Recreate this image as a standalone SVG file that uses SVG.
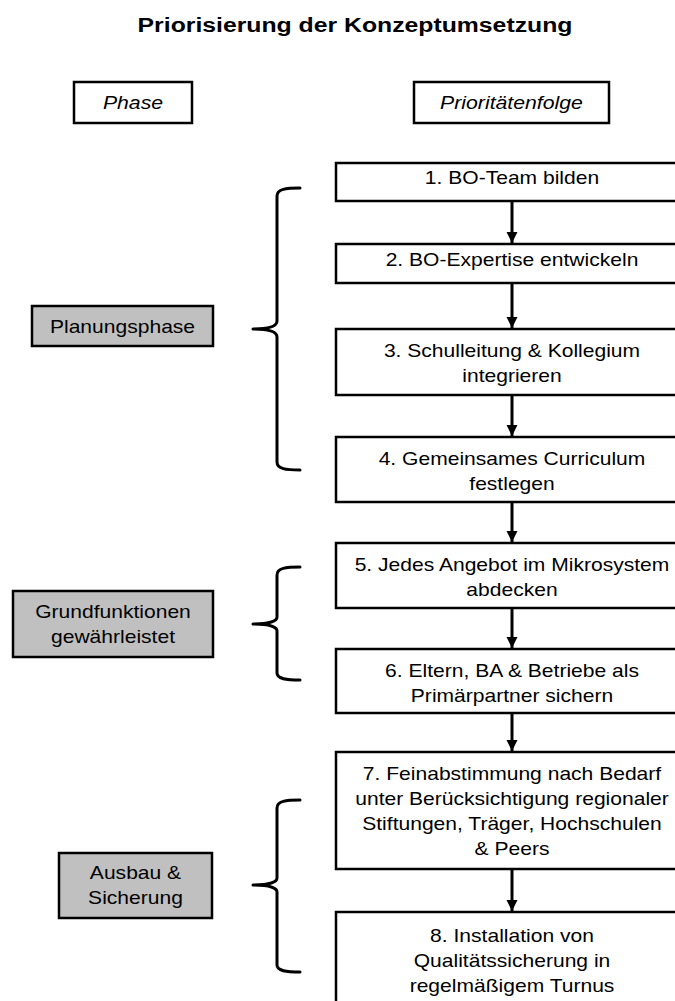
<svg xmlns="http://www.w3.org/2000/svg" width="675" height="1001" viewBox="0 0 675 1001">
<defs>
<style>
text{font-family:"Liberation Sans",Arial,Helvetica,sans-serif;font-size:18px;fill:#000;text-anchor:middle}
.title{font-size:21px;font-weight:bold}
.it{font-style:italic}
.box{fill:#fff;stroke:#000;stroke-width:2.5}
.phase{fill:#c0c0c0;stroke:#000;stroke-width:2.5}
.brace{fill:none;stroke:#000;stroke-width:3;stroke-linecap:round;stroke-linejoin:round}
.conn{stroke:#000;stroke-width:3;fill:none}
</style>
<marker id="ah" viewBox="0 0 10 10" refX="10" refY="5" markerUnits="userSpaceOnUse" markerWidth="11" markerHeight="12" orient="auto">
<path d="M0,0 L10,5 L0,10 Z" fill="#000"/>
</marker>
</defs>
<rect width="675" height="1001" fill="#fff"/>

<g id="title"><text class="title" transform="translate(355,32) scale(1.18,1)">Priorisierung der Konzeptumsetzung</text></g>

<g id="hdr-phase"><rect class="box" x="74" y="82" width="118" height="41"/><text class="it" transform="translate(133,109) scale(1.18,1)">Phase</text></g>
<g id="hdr-prio"><rect class="box" x="414" y="82" width="195" height="41"/><text class="it" transform="translate(511.5,109) scale(1.18,1)">Prioritätenfolge</text></g>

<g id="connectors">
<line class="conn" x1="512" y1="201" x2="512" y2="243" marker-end="url(#ah)"/>
<line class="conn" x1="512" y1="283" x2="512" y2="328" marker-end="url(#ah)"/>
<line class="conn" x1="512" y1="395" x2="512" y2="436" marker-end="url(#ah)"/>
<line class="conn" x1="512" y1="502" x2="512" y2="542" marker-end="url(#ah)"/>
<line class="conn" x1="512" y1="608" x2="512" y2="648" marker-end="url(#ah)"/>
<line class="conn" x1="512" y1="713" x2="512" y2="751" marker-end="url(#ah)"/>
<line class="conn" x1="512" y1="869" x2="512" y2="911" marker-end="url(#ah)"/>
</g>

<g id="braces">
<path class="brace" d="M300,188 C286,188 277,189 277,196 L277,321 C277,326 270,329 253,329 C270,329 277,332 277,337 L277,462 C277,469 286,470 300,470"/>
<path class="brace" d="M300,567 C286,567 277,568 277,575 L277,617 C277,621 270,624 253,624 C270,624 277,627 277,631 L277,673 C277,679 286,680 300,680"/>
<path class="brace" d="M300,800 C286,800 277,801 277,808 L277,878 C277,882 270,885 253,885 C270,885 277,888 277,892 L277,965 C277,971 286,972 300,972"/>
</g>

<g id="p1"><rect class="phase" x="32" y="306" width="181" height="40"/><text transform="translate(122.5,333) scale(1.17,1)">Planungsphase</text></g>
<g id="p2"><rect class="phase" x="13" y="591" width="200" height="66"/><text transform="translate(113,618) scale(1.17,1)">Grundfunktionen</text><text transform="translate(113,643) scale(1.17,1)">gewährleistet</text></g>
<g id="p3"><rect class="phase" x="59" y="853" width="153" height="65"/><text transform="translate(135.5,879) scale(1.17,1)">Ausbau &amp;</text><text transform="translate(135.5,904) scale(1.17,1)">Sicherung</text></g>

<g id="s1"><rect class="box" x="336" y="163" width="352" height="38"/><text transform="translate(512,184) scale(1.17,1)">1. BO-Team bilden</text></g>
<g id="s2"><rect class="box" x="336" y="244" width="352" height="39"/><text transform="translate(512,266) scale(1.17,1)">2. BO-Expertise entwickeln</text></g>
<g id="s3"><rect class="box" x="336" y="329" width="352" height="66"/><text transform="translate(512,357) scale(1.17,1)">3. Schulleitung &amp; Kollegium</text><text transform="translate(512,382) scale(1.17,1)">integrieren</text></g>
<g id="s4"><rect class="box" x="336" y="437" width="352" height="65"/><text transform="translate(512,464.5) scale(1.17,1)">4. Gemeinsames Curriculum</text><text transform="translate(512,489.5) scale(1.17,1)">festlegen</text></g>
<g id="s5"><rect class="box" x="336" y="543" width="352" height="65"/><text transform="translate(512,571) scale(1.17,1)">5. Jedes Angebot im Mikrosystem</text><text transform="translate(512,596) scale(1.17,1)">abdecken</text></g>
<g id="s6"><rect class="box" x="336" y="649" width="352" height="64"/><text transform="translate(512,676.5) scale(1.17,1)">6. Eltern, BA &amp; Betriebe als</text><text transform="translate(512,701.5) scale(1.17,1)">Primärpartner sichern</text></g>
<g id="s7"><rect class="box" x="336" y="752" width="352" height="117"/><text transform="translate(512,780) scale(1.17,1)">7. Feinabstimmung nach Bedarf</text><text transform="translate(512,805) scale(1.17,1)">unter Berücksichtigung regionaler</text><text transform="translate(512,830) scale(1.17,1)">Stiftungen, Träger, Hochschulen</text><text transform="translate(512,855) scale(1.17,1)">&amp; Peers</text></g>
<g id="s8"><rect class="box" x="336" y="912" width="352" height="100"/><text transform="translate(512,942) scale(1.17,1)">8. Installation von</text><text transform="translate(512,967) scale(1.17,1)">Qualitätssicherung in</text><text transform="translate(512,992) scale(1.17,1)">regelmäßigem Turnus</text></g>
</svg>
